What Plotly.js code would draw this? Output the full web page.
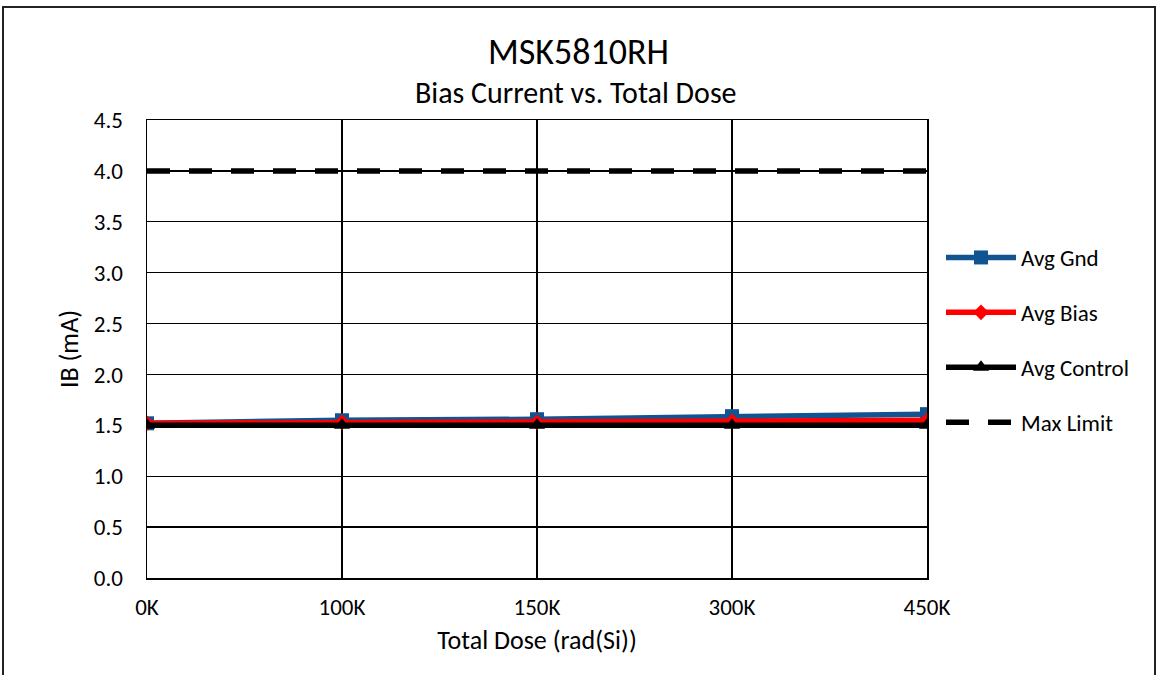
<!DOCTYPE html>
<html>
<head>
<meta charset="utf-8">
<script src="https://cdn.plot.ly/plotly-3.0.1.min.js"></script>
<style>html,body{margin:0;padding:0;background:#fff;}#chart{width:1156px;height:675px;}</style>
</head>
<body>
<div id="chart"></div>
<script>
const categories = ['0K', '100K', '150K', '300K', '450K'];
const avgGnd = [1.52, 1.55, 1.56, 1.59, 1.61];
const avgBias = [1.52, 1.53, 1.53, 1.54, 1.55];
const avgControl = [1.50, 1.50, 1.50, 1.50, 1.50];
const maxLimit = [4.0, 4.0, 4.0, 4.0, 4.0];
const yTicks = [0.0, 0.5, 1.0, 1.5, 2.0, 2.5, 3.0, 3.5, 4.0, 4.5];

const FONT = 'Carlito, Calibri, "Noto Sans", sans-serif';

const traces = [
  {x: categories, y: avgGnd, name: 'Avg Gnd', mode: 'lines+markers', legendgroup: 'a',
   line: {color: '#125391', width: 5.5}, marker: {symbol: 'square', size: 14, color: '#125391'}},
  {x: categories, y: avgBias, name: 'Avg Bias', mode: 'lines+markers', legendgroup: 'b',
   line: {color: '#ff0000', width: 5.5}, marker: {symbol: 'diamond', size: 12, color: '#ff0000'}},
  {x: categories, y: avgControl, name: 'Avg Control', mode: 'lines+markers', legendgroup: 'c',
   line: {color: '#000000', width: 5.5}, marker: {symbol: 'triangle-up', size: 14, color: '#000000'}},
  {x: categories, y: maxLimit, name: 'Max Limit', mode: 'lines', legendgroup: 'd',
   line: {color: '#000000', width: 5.5, dash: '23px,19px'}}
];

const L = 147, R = 927, T = 120, B = 578;
const pw = R - L, ph = B - T;
const px = v => (v - L) / pw;
const py = v => (B - v) / ph;

const layout = {
  width: 1156, height: 675,
  margin: {l: L, r: 1156 - R, t: T, b: 675 - B, pad: 0},
  paper_bgcolor: '#ffffff', plot_bgcolor: '#ffffff',
  font: {family: FONT, size: 23, color: '#000'},
  showlegend: true,
  legend: {x: px(941), y: py(236), xanchor: 'left', yanchor: 'top', font: {size: 23, family: FONT},
           tracegroupgap: 22, bgcolor: 'rgba(0,0,0,0)', itemwidth: 70},
  xaxis: {type: 'category', range: [0, categories.length - 1], showgrid: true, gridcolor: '#000', gridwidth: 1.3,
          showline: true, linecolor: '#000', linewidth: 1.5, mirror: true, ticks: '', zeroline: false,
          tickfont: {size: 23, family: FONT}, ticklabelstandoff: 8,
          title: {text: 'Total Dose (rad(Si))', font: {size: 26, family: FONT}, standoff: 10}},
  yaxis: {range: [0, 4.5], tickvals: yTicks, tickformat: '.1f', showgrid: true, gridcolor: '#000', gridwidth: 1.3,
          showline: true, linecolor: '#000', linewidth: 1.5, mirror: true, ticks: '', zeroline: false,
          tickfont: {size: 23, family: FONT}, ticklabelstandoff: 18,
          title: {text: 'IB (mA)', font: {size: 26, family: FONT}, standoff: 7}},
  annotations: [
    {text: 'MSK5810RH', xref: 'paper', yref: 'paper', x: px(578), y: py(52), xanchor: 'center', yanchor: 'middle',
     showarrow: false, font: {size: 36, family: FONT}},
    {text: 'Bias Current vs. Total Dose', xref: 'paper', yref: 'paper', x: px(576), y: py(92), xanchor: 'center', yanchor: 'middle',
     showarrow: false, font: {size: 30, family: FONT}}
  ],
  shapes: [
    {type: 'rect', xref: 'paper', yref: 'paper', x0: px(3), x1: px(1155), y0: py(7), y1: py(690),
     line: {color: '#222', width: 2}, fillcolor: 'rgba(0,0,0,0)', layer: 'below'}
  ]
};

Plotly.newPlot('chart', traces, layout, {displayModeBar: false, staticPlot: true});
</script>
</body>
</html>
